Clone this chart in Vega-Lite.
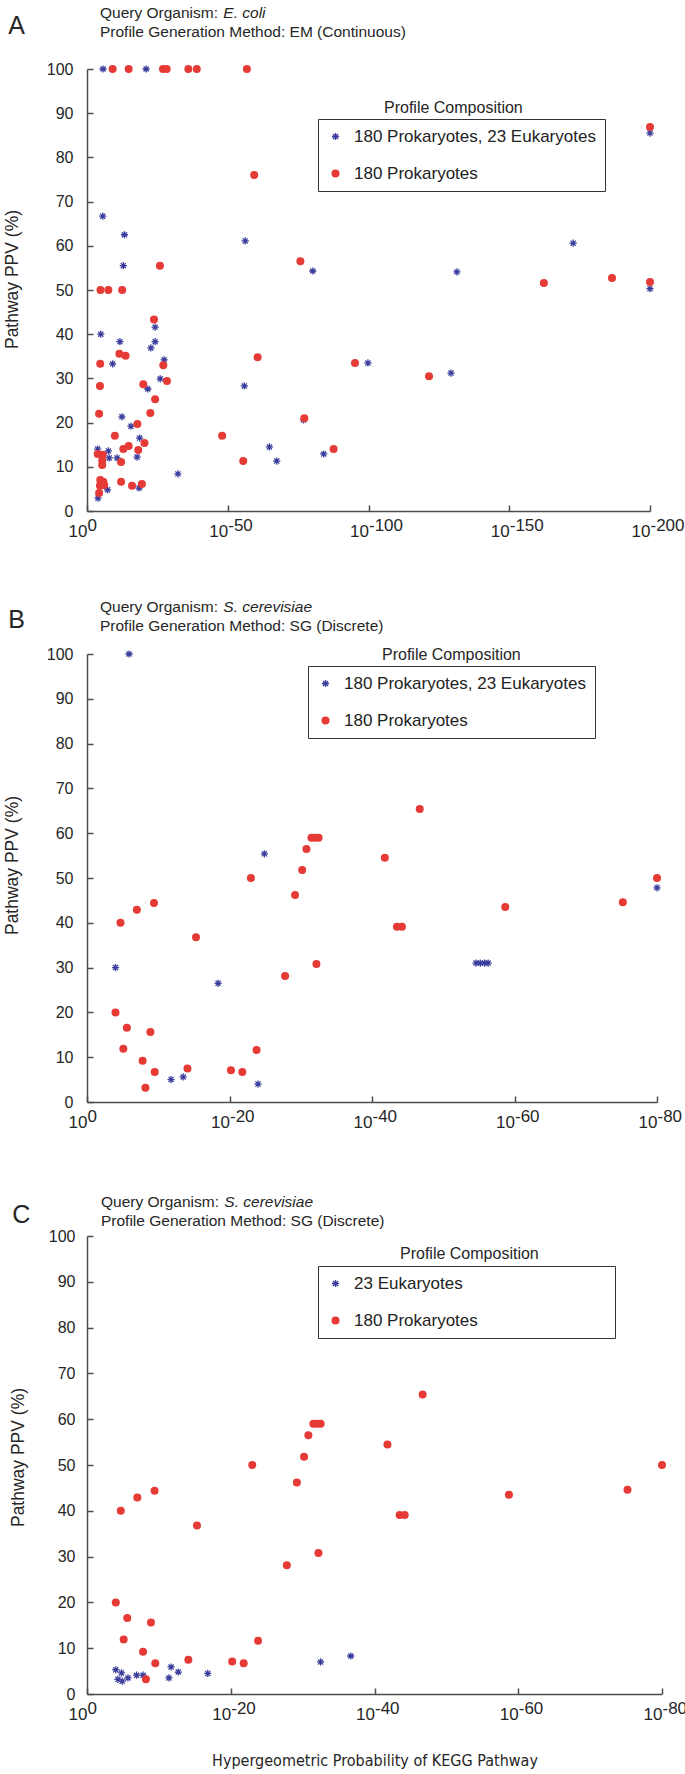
{
  "$schema": "https://vega.github.io/schema/vega-lite/v6.json",
  "background": "white",
  "padding": {"left": 3, "top": 5, "right": 5, "bottom": 5},
  "config": {
    "view": {"stroke": null},
    "font": "Liberation Sans",
    "title": {"font": "Liberation Sans", "fontWeight": "normal", "color": "#262626"},
    "axis": {"grid": false, "domainColor": "#4d4d4d", "domainWidth": 1.5, "tickColor": "#4d4d4d", "tickWidth": 1.5, "labelColor": "#262626", "labelFont": "Liberation Sans", "titleFont": "Liberation Sans", "titleFontWeight": "normal", "titleColor": "#262626", "labelFlush": false, "labelOverlap": false},
    "legend": {"labelFont": "Liberation Sans", "titleFont": "Liberation Sans"}
  },
  "datasets": {
    "a": [
      {"g": "180 Prokaryotes, 23 Eukaryotes", "e": 5.7, "p": 100},
      {"g": "180 Prokaryotes, 23 Eukaryotes", "e": 21, "p": 100},
      {"g": "180 Prokaryotes, 23 Eukaryotes", "e": 5.6, "p": 66.7},
      {"g": "180 Prokaryotes, 23 Eukaryotes", "e": 13.3, "p": 62.5},
      {"g": "180 Prokaryotes, 23 Eukaryotes", "e": 12.9, "p": 55.5},
      {"g": "180 Prokaryotes, 23 Eukaryotes", "e": 56.2, "p": 61.1},
      {"g": "180 Prokaryotes, 23 Eukaryotes", "e": 80.2, "p": 54.3},
      {"g": "180 Prokaryotes, 23 Eukaryotes", "e": 24.2, "p": 41.6},
      {"g": "180 Prokaryotes, 23 Eukaryotes", "e": 4.9, "p": 40},
      {"g": "180 Prokaryotes, 23 Eukaryotes", "e": 11.7, "p": 38.3},
      {"g": "180 Prokaryotes, 23 Eukaryotes", "e": 24.2, "p": 38.3},
      {"g": "180 Prokaryotes, 23 Eukaryotes", "e": 22.7, "p": 36.9},
      {"g": "180 Prokaryotes, 23 Eukaryotes", "e": 9.1, "p": 33.3},
      {"g": "180 Prokaryotes, 23 Eukaryotes", "e": 27.4, "p": 34.2},
      {"g": "180 Prokaryotes, 23 Eukaryotes", "e": 26, "p": 29.9},
      {"g": "180 Prokaryotes, 23 Eukaryotes", "e": 55.9, "p": 28.3},
      {"g": "180 Prokaryotes, 23 Eukaryotes", "e": 21.6, "p": 27.6},
      {"g": "180 Prokaryotes, 23 Eukaryotes", "e": 12.4, "p": 21.3},
      {"g": "180 Prokaryotes, 23 Eukaryotes", "e": 76.9, "p": 20.6},
      {"g": "180 Prokaryotes, 23 Eukaryotes", "e": 15.6, "p": 19.2},
      {"g": "180 Prokaryotes, 23 Eukaryotes", "e": 18.7, "p": 16.5},
      {"g": "180 Prokaryotes, 23 Eukaryotes", "e": 3.8, "p": 14},
      {"g": "180 Prokaryotes, 23 Eukaryotes", "e": 64.8, "p": 14.5},
      {"g": "180 Prokaryotes, 23 Eukaryotes", "e": 84.1, "p": 12.9},
      {"g": "180 Prokaryotes, 23 Eukaryotes", "e": 7.6, "p": 13.6},
      {"g": "180 Prokaryotes, 23 Eukaryotes", "e": 7.9, "p": 12},
      {"g": "180 Prokaryotes, 23 Eukaryotes", "e": 10.7, "p": 12},
      {"g": "180 Prokaryotes, 23 Eukaryotes", "e": 17.8, "p": 12.2},
      {"g": "180 Prokaryotes, 23 Eukaryotes", "e": 67.4, "p": 11.3},
      {"g": "180 Prokaryotes, 23 Eukaryotes", "e": 32.3, "p": 8.4},
      {"g": "180 Prokaryotes, 23 Eukaryotes", "e": 18.5, "p": 5.2},
      {"g": "180 Prokaryotes, 23 Eukaryotes", "e": 7.3, "p": 4.8},
      {"g": "180 Prokaryotes, 23 Eukaryotes", "e": 3.9, "p": 2.9},
      {"g": "180 Prokaryotes, 23 Eukaryotes", "e": 200, "p": 85.5},
      {"g": "180 Prokaryotes, 23 Eukaryotes", "e": 172.7, "p": 60.6},
      {"g": "180 Prokaryotes, 23 Eukaryotes", "e": 131.4, "p": 54.1},
      {"g": "180 Prokaryotes, 23 Eukaryotes", "e": 200, "p": 50.3},
      {"g": "180 Prokaryotes, 23 Eukaryotes", "e": 99.8, "p": 33.5},
      {"g": "180 Prokaryotes, 23 Eukaryotes", "e": 129.3, "p": 31.2},
      {"g": "180 Prokaryotes", "e": 9.1, "p": 100},
      {"g": "180 Prokaryotes", "e": 14.8, "p": 100},
      {"g": "180 Prokaryotes", "e": 27, "p": 100},
      {"g": "180 Prokaryotes", "e": 28.3, "p": 100},
      {"g": "180 Prokaryotes", "e": 36, "p": 100},
      {"g": "180 Prokaryotes", "e": 39, "p": 100},
      {"g": "180 Prokaryotes", "e": 56.8, "p": 100},
      {"g": "180 Prokaryotes", "e": 59.4, "p": 76},
      {"g": "180 Prokaryotes", "e": 25.9, "p": 55.5},
      {"g": "180 Prokaryotes", "e": 75.8, "p": 56.5},
      {"g": "180 Prokaryotes", "e": 4.8, "p": 50},
      {"g": "180 Prokaryotes", "e": 7.6, "p": 50},
      {"g": "180 Prokaryotes", "e": 12.5, "p": 50},
      {"g": "180 Prokaryotes", "e": 23.8, "p": 43.3},
      {"g": "180 Prokaryotes", "e": 11.5, "p": 35.6},
      {"g": "180 Prokaryotes", "e": 13.7, "p": 35.1},
      {"g": "180 Prokaryotes", "e": 4.7, "p": 33.3},
      {"g": "180 Prokaryotes", "e": 27.1, "p": 33},
      {"g": "180 Prokaryotes", "e": 60.6, "p": 34.8},
      {"g": "180 Prokaryotes", "e": 28.4, "p": 29.4},
      {"g": "180 Prokaryotes", "e": 20, "p": 28.7},
      {"g": "180 Prokaryotes", "e": 4.6, "p": 28.3},
      {"g": "180 Prokaryotes", "e": 24.2, "p": 25.3},
      {"g": "180 Prokaryotes", "e": 22.5, "p": 22.2},
      {"g": "180 Prokaryotes", "e": 4.3, "p": 22},
      {"g": "180 Prokaryotes", "e": 77.2, "p": 21},
      {"g": "180 Prokaryotes", "e": 17.9, "p": 19.7},
      {"g": "180 Prokaryotes", "e": 9.9, "p": 17},
      {"g": "180 Prokaryotes", "e": 48, "p": 17},
      {"g": "180 Prokaryotes", "e": 20.4, "p": 15.4},
      {"g": "180 Prokaryotes", "e": 14.8, "p": 14.7},
      {"g": "180 Prokaryotes", "e": 12.9, "p": 14},
      {"g": "180 Prokaryotes", "e": 18.2, "p": 13.8},
      {"g": "180 Prokaryotes", "e": 87.6, "p": 14},
      {"g": "180 Prokaryotes", "e": 3.8, "p": 12.9},
      {"g": "180 Prokaryotes", "e": 5.6, "p": 12.7},
      {"g": "180 Prokaryotes", "e": 5.4, "p": 11.5},
      {"g": "180 Prokaryotes", "e": 5.4, "p": 10.4},
      {"g": "180 Prokaryotes", "e": 12.1, "p": 11.1},
      {"g": "180 Prokaryotes", "e": 55.5, "p": 11.3},
      {"g": "180 Prokaryotes", "e": 4.7, "p": 7},
      {"g": "180 Prokaryotes", "e": 5.8, "p": 6.6},
      {"g": "180 Prokaryotes", "e": 12.1, "p": 6.6},
      {"g": "180 Prokaryotes", "e": 19.5, "p": 6.1},
      {"g": "180 Prokaryotes", "e": 16, "p": 5.7},
      {"g": "180 Prokaryotes", "e": 4.6, "p": 5.7},
      {"g": "180 Prokaryotes", "e": 4.3, "p": 4.1},
      {"g": "180 Prokaryotes", "e": 6.1, "p": 5.9},
      {"g": "180 Prokaryotes", "e": 200, "p": 86.9},
      {"g": "180 Prokaryotes", "e": 162.3, "p": 51.6},
      {"g": "180 Prokaryotes", "e": 186.5, "p": 52.7},
      {"g": "180 Prokaryotes", "e": 200, "p": 51.8},
      {"g": "180 Prokaryotes", "e": 95.2, "p": 33.5},
      {"g": "180 Prokaryotes", "e": 121.5, "p": 30.5}
    ],
    "b": [
      {"g": "180 Prokaryotes, 23 Eukaryotes", "e": 5.9, "p": 100},
      {"g": "180 Prokaryotes, 23 Eukaryotes", "e": 24.9, "p": 55.4},
      {"g": "180 Prokaryotes, 23 Eukaryotes", "e": 80, "p": 47.8},
      {"g": "180 Prokaryotes, 23 Eukaryotes", "e": 54.6, "p": 31},
      {"g": "180 Prokaryotes, 23 Eukaryotes", "e": 55.2, "p": 31},
      {"g": "180 Prokaryotes, 23 Eukaryotes", "e": 55.8, "p": 31},
      {"g": "180 Prokaryotes, 23 Eukaryotes", "e": 56.3, "p": 31},
      {"g": "180 Prokaryotes, 23 Eukaryotes", "e": 4.0, "p": 30},
      {"g": "180 Prokaryotes, 23 Eukaryotes", "e": 18.4, "p": 26.5},
      {"g": "180 Prokaryotes, 23 Eukaryotes", "e": 11.8, "p": 5.0},
      {"g": "180 Prokaryotes, 23 Eukaryotes", "e": 13.5, "p": 5.6},
      {"g": "180 Prokaryotes, 23 Eukaryotes", "e": 24.0, "p": 4.0},
      {"g": "180 Prokaryotes", "e": 46.7, "p": 65.4},
      {"g": "180 Prokaryotes", "e": 31.5, "p": 59},
      {"g": "180 Prokaryotes", "e": 32.0, "p": 59},
      {"g": "180 Prokaryotes", "e": 32.5, "p": 59},
      {"g": "180 Prokaryotes", "e": 30.8, "p": 56.5},
      {"g": "180 Prokaryotes", "e": 41.8, "p": 54.5},
      {"g": "180 Prokaryotes", "e": 30.2, "p": 51.8},
      {"g": "180 Prokaryotes", "e": 23.0, "p": 50},
      {"g": "180 Prokaryotes", "e": 80, "p": 50},
      {"g": "180 Prokaryotes", "e": 29.2, "p": 46.2},
      {"g": "180 Prokaryotes", "e": 75.2, "p": 44.6},
      {"g": "180 Prokaryotes", "e": 9.4, "p": 44.4},
      {"g": "180 Prokaryotes", "e": 58.7, "p": 43.5},
      {"g": "180 Prokaryotes", "e": 7.0, "p": 42.9},
      {"g": "180 Prokaryotes", "e": 4.7, "p": 40},
      {"g": "180 Prokaryotes", "e": 43.5, "p": 39.1},
      {"g": "180 Prokaryotes", "e": 44.2, "p": 39.1},
      {"g": "180 Prokaryotes", "e": 15.3, "p": 36.8},
      {"g": "180 Prokaryotes", "e": 32.2, "p": 30.8},
      {"g": "180 Prokaryotes", "e": 27.8, "p": 28.1},
      {"g": "180 Prokaryotes", "e": 4.0, "p": 20},
      {"g": "180 Prokaryotes", "e": 5.6, "p": 16.6},
      {"g": "180 Prokaryotes", "e": 8.9, "p": 15.6},
      {"g": "180 Prokaryotes", "e": 5.1, "p": 11.9},
      {"g": "180 Prokaryotes", "e": 23.8, "p": 11.6},
      {"g": "180 Prokaryotes", "e": 7.8, "p": 9.2},
      {"g": "180 Prokaryotes", "e": 14.1, "p": 7.5},
      {"g": "180 Prokaryotes", "e": 20.2, "p": 7.1},
      {"g": "180 Prokaryotes", "e": 21.8, "p": 6.7},
      {"g": "180 Prokaryotes", "e": 9.5, "p": 6.7},
      {"g": "180 Prokaryotes", "e": 8.2, "p": 3.2}
    ],
    "c": [
      {"g": "23 Eukaryotes", "e": 4.0, "p": 5.3},
      {"g": "23 Eukaryotes", "e": 4.8, "p": 4.6},
      {"g": "23 Eukaryotes", "e": 4.3, "p": 3.2},
      {"g": "23 Eukaryotes", "e": 4.9, "p": 2.8},
      {"g": "23 Eukaryotes", "e": 5.7, "p": 3.5},
      {"g": "23 Eukaryotes", "e": 6.9, "p": 4.1},
      {"g": "23 Eukaryotes", "e": 7.8, "p": 4.1},
      {"g": "23 Eukaryotes", "e": 11.4, "p": 3.5},
      {"g": "23 Eukaryotes", "e": 11.7, "p": 5.9},
      {"g": "23 Eukaryotes", "e": 12.7, "p": 4.8},
      {"g": "23 Eukaryotes", "e": 16.8, "p": 4.5},
      {"g": "23 Eukaryotes", "e": 32.5, "p": 7.0},
      {"g": "23 Eukaryotes", "e": 36.7, "p": 8.3},
      {"g": "180 Prokaryotes", "e": 46.7, "p": 65.4},
      {"g": "180 Prokaryotes", "e": 31.5, "p": 59},
      {"g": "180 Prokaryotes", "e": 32.0, "p": 59},
      {"g": "180 Prokaryotes", "e": 32.5, "p": 59},
      {"g": "180 Prokaryotes", "e": 30.8, "p": 56.5},
      {"g": "180 Prokaryotes", "e": 41.8, "p": 54.5},
      {"g": "180 Prokaryotes", "e": 30.2, "p": 51.8},
      {"g": "180 Prokaryotes", "e": 23.0, "p": 50},
      {"g": "180 Prokaryotes", "e": 80, "p": 50},
      {"g": "180 Prokaryotes", "e": 29.2, "p": 46.2},
      {"g": "180 Prokaryotes", "e": 75.2, "p": 44.6},
      {"g": "180 Prokaryotes", "e": 9.4, "p": 44.4},
      {"g": "180 Prokaryotes", "e": 58.7, "p": 43.5},
      {"g": "180 Prokaryotes", "e": 7.0, "p": 42.9},
      {"g": "180 Prokaryotes", "e": 4.7, "p": 40},
      {"g": "180 Prokaryotes", "e": 43.5, "p": 39.1},
      {"g": "180 Prokaryotes", "e": 44.2, "p": 39.1},
      {"g": "180 Prokaryotes", "e": 15.3, "p": 36.8},
      {"g": "180 Prokaryotes", "e": 32.2, "p": 30.8},
      {"g": "180 Prokaryotes", "e": 27.8, "p": 28.1},
      {"g": "180 Prokaryotes", "e": 4.0, "p": 20},
      {"g": "180 Prokaryotes", "e": 5.6, "p": 16.6},
      {"g": "180 Prokaryotes", "e": 8.9, "p": 15.6},
      {"g": "180 Prokaryotes", "e": 5.1, "p": 11.9},
      {"g": "180 Prokaryotes", "e": 23.8, "p": 11.6},
      {"g": "180 Prokaryotes", "e": 7.8, "p": 9.2},
      {"g": "180 Prokaryotes", "e": 14.1, "p": 7.5},
      {"g": "180 Prokaryotes", "e": 20.2, "p": 7.1},
      {"g": "180 Prokaryotes", "e": 21.8, "p": 6.7},
      {"g": "180 Prokaryotes", "e": 9.5, "p": 6.7},
      {"g": "180 Prokaryotes", "e": 8.2, "p": 3.2}
    ]
  },
  "resolve": {"scale": {"color": "independent", "shape": "independent", "opacity": "independent"}, "legend": {"color": "independent", "shape": "independent", "opacity": "independent"}},
  "spacing": 60,
  "vconcat": [
    {
      "title": {"text": "A", "anchor": "start", "frame": "bounds", "fontSize": 25, "dx": 5, "dy": 33, "offset": 0},
      "resolve": {"scale": {"color": "independent", "shape": "independent", "opacity": "independent"}, "legend": {"color": "independent", "shape": "independent", "opacity": "independent"}},
      "vconcat": [
        {
          "title": {"text": "E. coli", "anchor": "start", "frame": "bounds", "fontSize": 15.5, "fontStyle": "italic", "dx": 220, "dy": 15, "offset": 0},
          "resolve": {"scale": {"color": "independent", "shape": "independent", "opacity": "independent"}, "legend": {"color": "independent", "shape": "independent", "opacity": "independent"}},
          "vconcat": [
            {
              "title": {"text": ["Query Organism:", "Profile Generation Method: EM (Continuous)"], "anchor": "start", "frame": "group", "dx": 13, "fontSize": 15.5, "lineHeight": 19, "offset": 20.5},
              "width": 563,
              "height": 442,
              "data": {"name": "a"},
              "resolve": {"axis": {"x": "independent"}},
              "layer": [
                {
                  "mark": {"type": "point", "filled": true, "size": 64, "opacity": 1},
                  "encoding": {
                    "x": {"field": "e", "type": "quantitative", "scale": {"domain": [0, 200], "nice": false, "zero": false}, "axis": {"orient": "bottom", "values": [0, 50, 100, 150, 200], "labelExpr": "'10'", "labelAlign": "right", "labelBaseline": "top", "labelFontSize": 17, "labelPadding": 18, "domain": true, "ticks": true, "tickSize": -6, "domainColor": "#4d4d4d", "tickColor": "#4d4d4d", "domainWidth": 1.5, "tickWidth": 1.5, "domainOpacity": 1, "tickOpacity": 1, "title": null, "encode": {"labels": {"update": {"dx": {"signal": "datum.value === 0 ? 8 : 0"}}}}}},
                    "y": {"field": "p", "type": "quantitative", "scale": {"domain": [0, 100], "nice": false}, "axis": {"values": [0, 10, 20, 30, 40, 50, 60, 70, 80, 90, 100], "labelFontSize": 16, "labelPadding": 20, "domain": true, "ticks": true, "tickSize": -6, "domainColor": "#4d4d4d", "tickColor": "#4d4d4d", "domainWidth": 1.5, "tickWidth": 1.5, "domainOpacity": 1, "tickOpacity": 1, "title": "Pathway PPV (%)", "titleFontSize": 17.5, "titlePadding": 25, "titleY": 210}},
                    "color": {"field": "g", "type": "nominal", "scale": {"domain": ["180 Prokaryotes, 23 Eukaryotes", "180 Prokaryotes"], "range": ["#3a3c9c", "#e63a37"]}, "legend": {"title": null, "orient": "none", "legendX": 231, "legendY": 50, "strokeColor": "#333333", "padding": 9, "labelFontSize": 17, "labelColor": "#222222", "symbolSize": 64, "symbolStrokeWidth": 0, "labelOffset": 10, "rowPadding": 19, "labelLimit": 400, "encode": {"legend": {"update": {"strokeWidth": {"value": 2}}}}}},
                    "shape": {"field": "g", "type": "nominal", "scale": {"domain": ["180 Prokaryotes, 23 Eukaryotes", "180 Prokaryotes"], "range": ["M-0.9,-0.16L0.9,-0.16L0.9,0.16L-0.9,0.16ZM-0.16,-0.9L0.16,-0.9L0.16,0.9L-0.16,0.9ZM-0.749,-0.523L-0.523,-0.749L0.749,0.523L0.523,0.749ZM-0.523,0.749L-0.749,0.523L0.523,-0.749L0.749,-0.523Z", "circle"]}, "legend": {"title": null, "orient": "none", "legendX": 231, "legendY": 50, "strokeColor": "#333333", "padding": 9, "labelFontSize": 17, "labelColor": "#222222", "symbolSize": 64, "symbolStrokeWidth": 0, "labelOffset": 10, "rowPadding": 19, "labelLimit": 400, "encode": {"legend": {"update": {"strokeWidth": {"value": 2}}}}}}
                  }
                },
                {
                  "mark": {"type": "point", "filled": true, "size": 64},
                  "encoding": {
                    "x": {"field": "e", "type": "quantitative", "scale": {"domain": [0, 200], "nice": false, "zero": false}, "axis": {"orient": "bottom", "values": [0, 50, 100, 150, 200], "labelExpr": "datum.value == 0 ? '0' : '-' + datum.value", "labelAlign": "left", "labelBaseline": "top", "labelFontSize": 17, "labelPadding": 6, "ticks": false, "domain": false, "title": null, "encode": {"labels": {"update": {"dx": {"signal": "datum.value === 0 ? 8 : 0"}}}}}},
                    "y": {"field": "p", "type": "quantitative", "scale": {"domain": [0, 100], "nice": false}},
                    "opacity": {"datum": "Profile Composition", "type": "nominal", "scale": {"range": [0, 0]}, "legend": {"title": "Profile Composition", "orient": "none", "legendX": 297, "legendY": 31, "padding": 0, "titleFontSize": 16, "titleFontWeight": "normal", "titleColor": "#262626", "titlePadding": 0, "labelExpr": "''", "symbolSize": 0, "symbolOpacity": 0, "symbolStrokeWidth": 0}}
                  }
                }
              ]
            }
          ]
        }
      ]
    },
    {
      "resolve": {"scale": {"color": "independent", "shape": "independent", "opacity": "independent"}, "legend": {"color": "independent", "shape": "independent", "opacity": "independent"}},
      "spacing": 64,
      "vconcat": [
        {
          "title": {"text": "B", "anchor": "start", "frame": "bounds", "fontSize": 25, "dx": 5, "dy": 33, "offset": 0},
          "resolve": {"scale": {"color": "independent", "shape": "independent", "opacity": "independent"}, "legend": {"color": "independent", "shape": "independent", "opacity": "independent"}},
          "vconcat": [
            {
              "title": {"text": "S. cerevisiae", "anchor": "start", "frame": "bounds", "fontSize": 15.5, "fontStyle": "italic", "dx": 220, "dy": 15, "offset": 0},
              "resolve": {"scale": {"color": "independent", "shape": "independent", "opacity": "independent"}, "legend": {"color": "independent", "shape": "independent", "opacity": "independent"}},
              "vconcat": [
                {
                  "title": {"text": ["Query Organism:", "Profile Generation Method: SG (Discrete)"], "anchor": "start", "frame": "group", "dx": 13, "fontSize": 15.5, "lineHeight": 19, "offset": 11.5},
                  "width": 570,
                  "height": 448,
                  "data": {"name": "b"},
                  "resolve": {"axis": {"x": "independent"}},
                  "layer": [
                    {
                      "mark": {"type": "point", "filled": true, "size": 64, "opacity": 1},
                      "encoding": {
                        "x": {"field": "e", "type": "quantitative", "scale": {"domain": [0, 80], "nice": false, "zero": false}, "axis": {"orient": "bottom", "values": [0, 20, 40, 60, 80], "labelExpr": "'10'", "labelAlign": "right", "labelBaseline": "top", "labelFontSize": 17, "labelPadding": 18, "domain": true, "ticks": true, "tickSize": -6, "domainColor": "#4d4d4d", "tickColor": "#4d4d4d", "domainWidth": 1.5, "tickWidth": 1.5, "domainOpacity": 1, "tickOpacity": 1, "title": null, "encode": {"labels": {"update": {"dx": {"signal": "datum.value === 0 ? 8 : 0"}}}}}},
                        "y": {"field": "p", "type": "quantitative", "scale": {"domain": [0, 100], "nice": false}, "axis": {"values": [0, 10, 20, 30, 40, 50, 60, 70, 80, 90, 100], "labelFontSize": 16, "labelPadding": 20, "domain": true, "ticks": true, "tickSize": -6, "domainColor": "#4d4d4d", "tickColor": "#4d4d4d", "domainWidth": 1.5, "tickWidth": 1.5, "domainOpacity": 1, "tickOpacity": 1, "title": "Pathway PPV (%)", "titleFontSize": 17.5, "titlePadding": 25, "titleY": 211}},
                        "color": {"field": "g", "type": "nominal", "scale": {"domain": ["180 Prokaryotes, 23 Eukaryotes", "180 Prokaryotes"], "range": ["#3a3c9c", "#e63a37"]}, "legend": {"title": null, "orient": "none", "legendX": 221, "legendY": 12, "strokeColor": "#333333", "padding": 9, "labelFontSize": 17, "labelColor": "#222222", "symbolSize": 64, "symbolStrokeWidth": 0, "labelOffset": 10, "rowPadding": 19, "labelLimit": 400, "encode": {"legend": {"update": {"strokeWidth": {"value": 2}}}}}},
                        "shape": {"field": "g", "type": "nominal", "scale": {"domain": ["180 Prokaryotes, 23 Eukaryotes", "180 Prokaryotes"], "range": ["M-0.9,-0.16L0.9,-0.16L0.9,0.16L-0.9,0.16ZM-0.16,-0.9L0.16,-0.9L0.16,0.9L-0.16,0.9ZM-0.749,-0.523L-0.523,-0.749L0.749,0.523L0.523,0.749ZM-0.523,0.749L-0.749,0.523L0.523,-0.749L0.749,-0.523Z", "circle"]}, "legend": {"title": null, "orient": "none", "legendX": 221, "legendY": 12, "strokeColor": "#333333", "padding": 9, "labelFontSize": 17, "labelColor": "#222222", "symbolSize": 64, "symbolStrokeWidth": 0, "labelOffset": 10, "rowPadding": 19, "labelLimit": 400, "encode": {"legend": {"update": {"strokeWidth": {"value": 2}}}}}}
                      }
                    },
                    {
                      "mark": {"type": "point", "filled": true, "size": 64},
                      "encoding": {
                        "x": {"field": "e", "type": "quantitative", "scale": {"domain": [0, 80], "nice": false, "zero": false}, "axis": {"orient": "bottom", "values": [0, 20, 40, 60, 80], "labelExpr": "datum.value == 0 ? '0' : '-' + datum.value", "labelAlign": "left", "labelBaseline": "top", "labelFontSize": 17, "labelPadding": 6, "ticks": false, "domain": false, "title": null, "encode": {"labels": {"update": {"dx": {"signal": "datum.value === 0 ? 8 : 0"}}}}}},
                        "y": {"field": "p", "type": "quantitative", "scale": {"domain": [0, 100], "nice": false}},
                        "opacity": {"datum": "Profile Composition", "type": "nominal", "scale": {"range": [0, 0]}, "legend": {"title": "Profile Composition", "orient": "none", "legendX": 295, "legendY": -7, "padding": 0, "titleFontSize": 16, "titleFontWeight": "normal", "titleColor": "#262626", "titlePadding": 0, "labelExpr": "''", "symbolSize": 0, "symbolOpacity": 0, "symbolStrokeWidth": 0}}
                      }
                    }
                  ]
                }
              ]
            }
          ]
        },
        {
          "title": {"text": "C", "anchor": "start", "frame": "bounds", "fontSize": 25, "dx": 3, "dy": 33, "offset": 0},
          "resolve": {"scale": {"color": "independent", "shape": "independent", "opacity": "independent"}, "legend": {"color": "independent", "shape": "independent", "opacity": "independent"}},
          "vconcat": [
            {
              "title": {"text": "S. cerevisiae", "anchor": "start", "frame": "bounds", "fontSize": 15.5, "fontStyle": "italic", "dx": 215, "dy": 15, "offset": 0},
              "resolve": {"scale": {"color": "independent", "shape": "independent", "opacity": "independent"}, "legend": {"color": "independent", "shape": "independent", "opacity": "independent"}},
              "vconcat": [
                {
                  "title": {"text": ["Query Organism:", "Profile Generation Method: SG (Discrete)"], "anchor": "start", "frame": "group", "dx": 14, "fontSize": 15.5, "lineHeight": 19, "offset": -1.5},
                  "width": 575,
                  "height": 458,
                  "data": {"name": "c"},
                  "resolve": {"axis": {"x": "independent"}},
                  "layer": [
                    {
                      "mark": {"type": "point", "filled": true, "size": 64, "opacity": 1},
                      "encoding": {
                        "x": {"field": "e", "type": "quantitative", "scale": {"domain": [0, 80], "nice": false, "zero": false}, "axis": {"orient": "bottom", "values": [0, 20, 40, 60, 80], "labelExpr": "'10'", "labelAlign": "right", "labelBaseline": "top", "labelFontSize": 17, "labelPadding": 18, "domain": true, "ticks": true, "tickSize": -6, "domainColor": "#4d4d4d", "tickColor": "#4d4d4d", "domainWidth": 1.5, "tickWidth": 1.5, "domainOpacity": 1, "tickOpacity": 1, "title": "Hypergeometric Probability of KEGG Pathway", "titleFont": "Liberation Sans Narrow, DejaVu Sans Condensed, sans-serif", "titleFontSize": 16, "titlePadding": 30, "encode": {"labels": {"update": {"dx": {"signal": "datum.value === 0 ? 12 : 0"}}}}}},
                        "y": {"field": "p", "type": "quantitative", "scale": {"domain": [0, 100], "nice": false}, "axis": {"values": [0, 10, 20, 30, 40, 50, 60, 70, 80, 90, 100], "labelFontSize": 16, "labelPadding": 18, "domain": true, "ticks": true, "tickSize": -6, "domainColor": "#4d4d4d", "tickColor": "#4d4d4d", "domainWidth": 1.5, "tickWidth": 1.5, "domainOpacity": 1, "tickOpacity": 1, "title": "Pathway PPV (%)", "titleFontSize": 17.5, "titlePadding": 21, "titleY": 221}},
                        "color": {"field": "g", "type": "nominal", "scale": {"domain": ["23 Eukaryotes", "180 Prokaryotes"], "range": ["#3a3c9c", "#e63a37"]}, "legend": {"title": null, "orient": "none", "legendX": 231, "legendY": 30, "strokeColor": "#333333", "padding": 9, "labelFontSize": 17, "labelColor": "#222222", "symbolSize": 64, "symbolStrokeWidth": 0, "labelOffset": 10, "rowPadding": 19, "labelLimit": 400, "labelExpr": "datum.label == '180 Prokaryotes' ? datum.label + '\u00a0\u00a0\u00a0\u00a0\u00a0\u00a0\u00a0\u00a0\u00a0\u00a0\u00a0\u00a0\u00a0\u00a0\u00a0\u00a0\u00a0\u00a0\u00a0\u00a0\u00a0\u00a0\u00a0\u00a0\u00a0\u00a0\u00a0\u200b' : datum.label", "encode": {"legend": {"update": {"strokeWidth": {"value": 2}}}}}},
                        "shape": {"field": "g", "type": "nominal", "scale": {"domain": ["23 Eukaryotes", "180 Prokaryotes"], "range": ["M-0.9,-0.16L0.9,-0.16L0.9,0.16L-0.9,0.16ZM-0.16,-0.9L0.16,-0.9L0.16,0.9L-0.16,0.9ZM-0.749,-0.523L-0.523,-0.749L0.749,0.523L0.523,0.749ZM-0.523,0.749L-0.749,0.523L0.523,-0.749L0.749,-0.523Z", "circle"]}, "legend": {"title": null, "orient": "none", "legendX": 231, "legendY": 30, "strokeColor": "#333333", "padding": 9, "labelFontSize": 17, "labelColor": "#222222", "symbolSize": 64, "symbolStrokeWidth": 0, "labelOffset": 10, "rowPadding": 19, "labelLimit": 400, "labelExpr": "datum.label == '180 Prokaryotes' ? datum.label + '\u00a0\u00a0\u00a0\u00a0\u00a0\u00a0\u00a0\u00a0\u00a0\u00a0\u00a0\u00a0\u00a0\u00a0\u00a0\u00a0\u00a0\u00a0\u00a0\u00a0\u00a0\u00a0\u00a0\u00a0\u00a0\u00a0\u00a0\u200b' : datum.label", "encode": {"legend": {"update": {"strokeWidth": {"value": 2}}}}}}
                      }
                    },
                    {
                      "mark": {"type": "point", "filled": true, "size": 64},
                      "encoding": {
                        "x": {"field": "e", "type": "quantitative", "scale": {"domain": [0, 80], "nice": false, "zero": false}, "axis": {"orient": "bottom", "values": [0, 20, 40, 60, 80], "labelExpr": "datum.value == 0 ? '0' : '-' + datum.value", "labelAlign": "left", "labelBaseline": "top", "labelFontSize": 17, "labelPadding": 6, "ticks": false, "domain": false, "title": null, "encode": {"labels": {"update": {"dx": {"signal": "datum.value === 0 ? 12 : 0"}}}}}},
                        "y": {"field": "p", "type": "quantitative", "scale": {"domain": [0, 100], "nice": false}},
                        "opacity": {"datum": "Profile Composition", "type": "nominal", "scale": {"range": [0, 0]}, "legend": {"title": "Profile Composition", "orient": "none", "legendX": 313, "legendY": 10, "padding": 0, "titleFontSize": 16, "titleFontWeight": "normal", "titleColor": "#262626", "titlePadding": 0, "labelExpr": "''", "symbolSize": 0, "symbolOpacity": 0, "symbolStrokeWidth": 0}}
                      }
                    }
                  ]
                }
              ]
            }
          ]
        }
      ]
    }
  ]
}
